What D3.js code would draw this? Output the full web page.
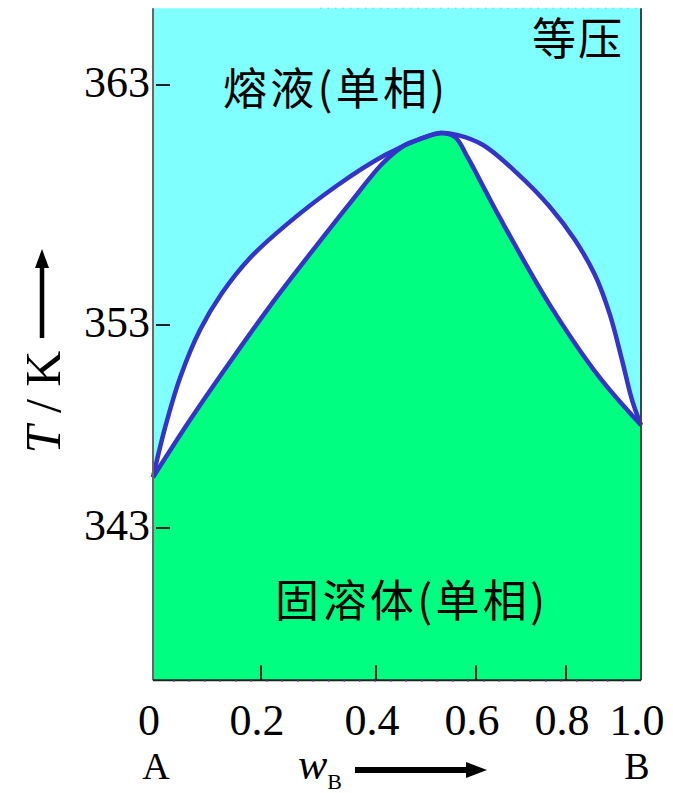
<!DOCTYPE html>
<html>
<head>
<meta charset="utf-8">
<script src="https://cdn.jsdelivr.net/npm/d3@7"></script>
<style>
  html, body { margin: 0; padding: 0; background: #ffffff; }
  svg { display: block; }
</style>
</head>
<body>
<svg id="chart" width="673" height="793"></svg>
<script>
// ---- data ----
const liquidusW = [0, 0.0222, 0.05, 0.087, 0.1278, 0.1796, 0.2417, 0.3287, 0.418, 0.488, 0.53, 0.562, 0.6156, 0.6911, 0.7644, 0.824, 0.8773, 0.9173, 0.9493, 0.976, 1.0];
const liquidusT = [345.5, 347.93, 350.39, 352.75, 354.33, 355.79, 357.13, 358.75, 360.08, 360.75, 361.0, 360.92, 360.5, 359.33, 357.92, 356.54, 355.08, 353.42, 351.28, 349.31, 348.07];
const solidusW = [0, 0.0685, 0.1426, 0.2157, 0.2852, 0.3548, 0.414, 0.458, 0.488, 0.53, 0.558, 0.584, 0.62, 0.6533, 0.7644, 0.8907, 1.0];
const solidusT = [345.5, 348.32, 351.18, 353.79, 355.96, 358.08, 359.75, 360.5, 360.75, 361.0, 360.83, 359.96, 358.63, 357.46, 353.83, 350.39, 348.07];
const xTicks = [0, 0.2, 0.4, 0.6, 0.8, 1.0];
const xTickLabels = ["0", "0.2", "0.4", "0.6", "0.8", "1.0"];
const yTicks = [343, 353, 363];
const yTickLabels = ["343", "353", "363"];
const tRange = [335.5, 366.2];
const labelLiquid = "熔液(单相)";
const labelSolid = "固溶体(单相)";
const labelPressure = "等压";

// ---- scales (the original figure's axes are hand-drawn and not uniform) ----
const x = d3.scaleLinear().domain(xTicks).range([153, 261, 376, 476, 566, 641]);
const y = d3.scaleLinear().domain(yTicks).range([528, 325, 85]);
const yTop = y(tRange[1]), yBot = y(tRange[0]);

const svg = d3.select("#chart");
const serif = "'Liberation Serif', 'Times New Roman', serif";
const cjk = "'Noto Sans CJK SC', sans-serif";

// background
svg.append("rect").attr("x", x(0)).attr("y", yTop)
  .attr("width", x(1) - x(0)).attr("height", yBot - yTop).attr("fill", "#80ffff");

const liq = liquidusW.map((w, i) => [w, liquidusT[i]]);
const sol = solidusW.map((w, i) => [w, solidusT[i]]);

const curve = d3.curveCatmullRom.alpha(0.5);
const area = d3.area().x(d => x(d[0])).y0(yBot).y1(d => y(d[1])).curve(curve);
const line = d3.line().x(d => x(d[0])).y(d => y(d[1])).curve(curve);

svg.append("path").attr("d", area(liq)).attr("fill", "#ffffff");
svg.append("path").attr("d", area(sol)).attr("fill", "#00ff80");

svg.append("path").attr("d", line(liq)).attr("fill", "none")
  .attr("stroke", "#3434c8").attr("stroke-width", 4.5).attr("stroke-linejoin", "round");
svg.append("path").attr("d", line(sol)).attr("fill", "none")
  .attr("stroke", "#3434c8").attr("stroke-width", 4.5).attr("stroke-linejoin", "round");

// frame
svg.append("line").attr("x1", x(0)).attr("x2", x(0)).attr("y1", yTop).attr("y2", yBot)
  .attr("stroke", "#666").attr("stroke-width", 2);
svg.append("line").attr("x1", x(1)).attr("x2", x(1)).attr("y1", yTop).attr("y2", yBot)
  .attr("stroke", "#444").attr("stroke-width", 2);
svg.append("line").attr("x1", x(0)).attr("x2", x(1)).attr("y1", yBot).attr("y2", yBot)
  .attr("stroke", "#222").attr("stroke-width", 2);
// dotted top edge and bottom minor dots
svg.append("line").attr("x1", 320).attr("x2", x(1)).attr("y1", yTop).attr("y2", yTop)
  .attr("stroke", "#40e0e0").attr("stroke-width", 1).attr("stroke-dasharray", "1.5 6");
svg.append("line").attr("x1", x(0) + 20).attr("x2", x(1) - 15).attr("y1", yBot + 1).attr("y2", yBot + 1)
  .attr("stroke", "#c040c0").attr("stroke-width", 1.5).attr("stroke-dasharray", "1.5 14");

// x ticks (inward)
svg.append("g").selectAll("line").data(xTicks.slice(1, -1)).join("line")
  .attr("x1", d => x(d)).attr("x2", d => x(d))
  .attr("y1", yBot).attr("y2", yBot - 15)
  .attr("stroke", "#222").attr("stroke-width", 2);
// y ticks (inward)
svg.append("g").selectAll("line").data(yTicks).join("line")
  .attr("x1", x(0) + 3).attr("x2", x(0) + 17)
  .attr("y1", d => y(d)).attr("y2", d => y(d))
  .attr("stroke", "#222").attr("stroke-width", 2);

// tick labels
svg.append("g").selectAll("text").data(xTicks).join("text")
  .attr("x", d => x(d) - 4).attr("y", 735)
  .attr("text-anchor", "middle")
  .attr("font-family", serif).attr("font-size", 44).attr("fill", "#000")
  .text((d, i) => xTickLabels[i]);
svg.append("g").selectAll("text").data(yTicks).join("text")
  .attr("x", 150).attr("y", d => y(d) + 12)
  .attr("text-anchor", "end")
  .attr("font-family", serif).attr("font-size", 44).attr("fill", "#000")
  .text((d, i) => yTickLabels[i]);

// A / B
svg.append("text").attr("x", x(0) + 3).attr("y", 779).attr("text-anchor", "middle")
  .attr("font-family", serif).attr("font-size", 38).text("A");
svg.append("text").attr("x", x(1) - 4).attr("y", 779).attr("text-anchor", "middle")
  .attr("font-family", serif).attr("font-size", 38).text("B");

// w_B label with arrow
const wt = svg.append("text").attr("x", 298).attr("y", 779)
  .attr("font-family", serif).attr("font-size", 44);
wt.append("tspan").attr("font-style", "italic").text("w");
wt.append("tspan").attr("font-size", 22).attr("dy", 10).text("B");
svg.append("line").attr("x1", 355).attr("x2", 468).attr("y1", 770).attr("y2", 770)
  .attr("stroke", "#000").attr("stroke-width", 6);
svg.append("path").attr("d", "M466,762 L487,770 L466,778 Z").attr("fill", "#000");

// y-axis title with arrow
const yt = svg.append("text").attr("transform", "translate(60,402) rotate(-90)")
  .attr("text-anchor", "middle").attr("font-family", serif).attr("font-size", 50);
yt.append("tspan").attr("font-style", "italic").text("T");
yt.append("tspan").text(" / K");
svg.append("line").attr("x1", 42).attr("x2", 42).attr("y1", 338).attr("y2", 264)
  .attr("stroke", "#000").attr("stroke-width", 4.5);
svg.append("path").attr("d", "M35,268 L42,249 L49,268 Z").attr("fill", "#000");

// region labels
svg.append("text").attr("x", 223).attr("y", 86).attr("dominant-baseline", "central")
  .attr("font-family", cjk).attr("font-size", 44).attr("fill", "#000")
  .attr("textLength", 222).attr("lengthAdjust", "spacing").text(labelLiquid);
svg.append("text").attr("x", 275).attr("y", 598).attr("dominant-baseline", "central")
  .attr("font-family", cjk).attr("font-size", 44).attr("fill", "#000")
  .attr("textLength", 270).attr("lengthAdjust", "spacing").text(labelSolid);
svg.append("text").attr("x", 532).attr("y", 36).attr("dominant-baseline", "central")
  .attr("font-family", cjk).attr("font-size", 44).attr("fill", "#000")
  .attr("textLength", 90).attr("lengthAdjust", "spacing").text(labelPressure);
</script>
</body>
</html>
